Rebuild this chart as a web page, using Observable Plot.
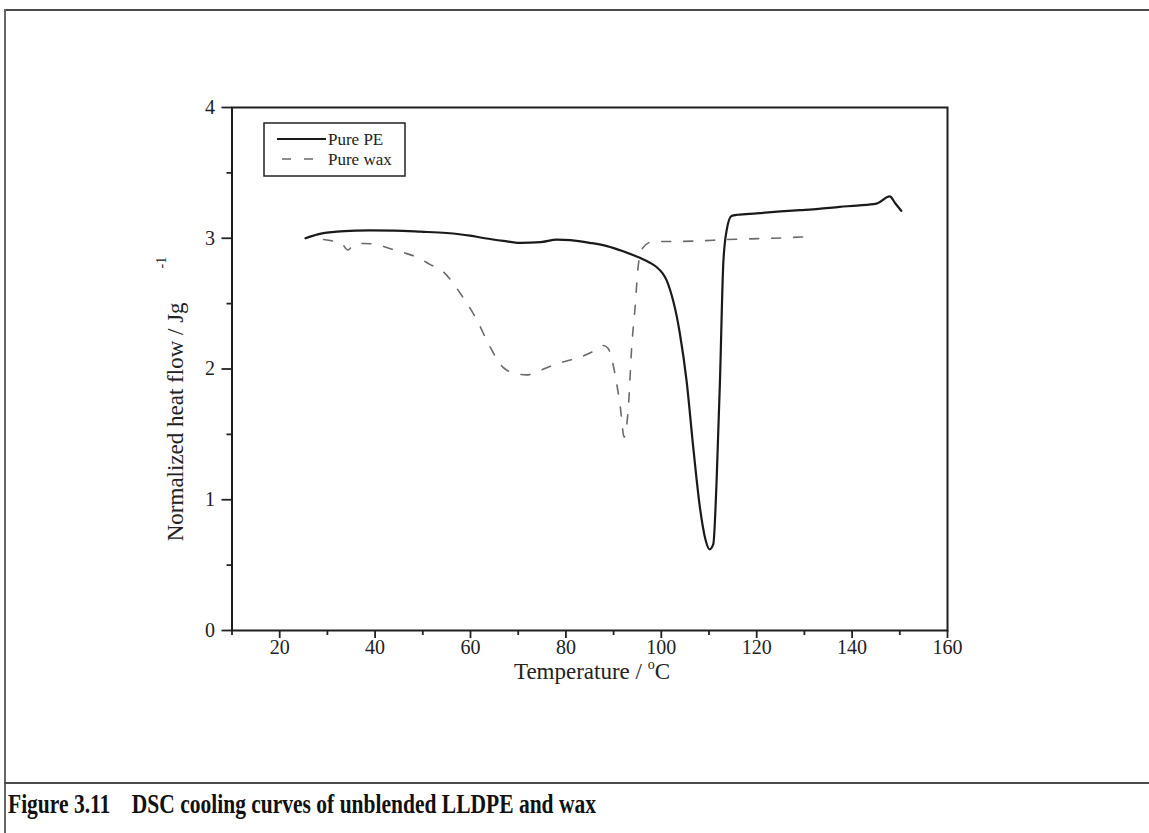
<!DOCTYPE html>
<html>
<head>
<meta charset="utf-8">
<script src="https://cdn.jsdelivr.net/npm/d3@7"></script>
<script src="https://cdn.jsdelivr.net/npm/@observablehq/plot@0.6"></script>
<style>
  html, body { margin: 0; padding: 0; background: #fff; }
  #page { position: relative; width: 1149px; height: 833px; overflow: hidden; background: #fff; }
  #page svg.chart { position: absolute; left: 0; top: 0; }
  .rule { position: absolute; background: #4a4a4a; }
  #caption { position: absolute; left: 8px; top: 789px; font-family: "Liberation Serif", "Times New Roman", serif;
    font-weight: bold; font-size: 21.5px; color: #111; white-space: pre; transform: scaleY(1.25); transform-origin: left top; }
</style>
</head>
<body>
<div id="page">
  <div class="rule" style="left:4px;top:9px;width:1145px;height:2px;"></div>
  <div class="rule" style="left:4px;top:9px;width:1.5px;height:824px;background:#666;"></div>
  <div class="rule" style="left:4px;top:782px;width:1145px;height:2px;"></div>
  <div id="caption">Figure 3.11    DSC cooling curves of unblended LLDPE and wax</div>
</div>
<script>
// ---- data ----
const peTemp = [25.4, 28, 32, 36, 39, 44, 49.5, 55, 59.9, 63, 66.9, 70.4, 74.7, 78.1, 81, 85, 88.6, 92, 95.5, 97.5, 99, 100.2, 101.1, 101.8, 102.5, 103.2, 103.9, 105.3, 106.7, 108.1, 109.3, 110.1, 110.9, 111.6, 112.3, 113, 113.7, 114.7, 116, 120, 125, 129.1, 133, 137.4, 141, 145.1, 147.9, 149, 150.3];
const peFlow = [3.0, 3.03, 3.05, 3.058, 3.06, 3.058, 3.05, 3.04, 3.02, 3.0, 2.98, 2.965, 2.97, 2.99, 2.985, 2.965, 2.94, 2.9, 2.85, 2.815, 2.78, 2.735, 2.68, 2.61, 2.52, 2.41, 2.27, 1.91, 1.40, 0.94, 0.69, 0.62, 0.66, 1.15, 1.91, 2.81, 3.06, 3.17, 3.18, 3.19, 3.205, 3.215, 3.225, 3.24, 3.25, 3.265, 3.32, 3.27, 3.21];
const waxTemp = [29.2, 31, 33, 34.3, 35.5, 37.6, 40, 43.2, 46, 48.8, 51.5, 54.4, 56.5, 58.2, 60, 61.4, 63.8, 66.9, 69, 71.8, 74, 77.4, 80, 83, 86, 87.9, 88.9, 89.6, 90.3, 91.4, 92.2, 93.1, 93.8, 94.5, 95.2, 96.2, 98.3, 102.5, 108, 113.7, 118, 123.5, 129.7];
const waxFlow = [2.99, 2.98, 2.96, 2.91, 2.95, 2.96, 2.955, 2.92, 2.89, 2.855, 2.80, 2.74, 2.65, 2.56, 2.46, 2.37, 2.19, 2.01, 1.97, 1.955, 1.98, 2.03, 2.06, 2.09, 2.14, 2.18, 2.155, 2.08, 1.96, 1.71, 1.48, 1.71, 2.17, 2.47, 2.80, 2.93, 2.975, 2.975, 2.98, 2.99, 2.995, 3.0, 3.01];
const xMajorTicks = [20, 40, 60, 80, 100, 120, 140, 160];
const xMinorTicks = [10, 30, 50, 70, 90, 110, 130, 150];
const yMajorTicks = [0, 1, 2, 3, 4];
const yMinorTicks = [0.5, 1.5, 2.5, 3.5];
const seriesNames = ["Pure PE", "Pure wax"];

const pe = peTemp.map((t, i) => ({t, f: peFlow[i]}));
const wax = waxTemp.map((t, i) => ({t, f: waxFlow[i]}));

const font = '"Liberation Serif", "Times New Roman", serif';
const W = 1149, H = 700, mL = 231.5, mR = 202, mT = 107, mB = 70;

const chart = Plot.plot({
  width: W, height: H,
  marginLeft: mL, marginRight: mR, marginTop: mT, marginBottom: mB,
  style: {fontFamily: font, fontSize: "20px", color: "#222", background: "transparent"},
  x: {domain: [10, 160]},
  y: {domain: [0, 4]},
  marks: [
    Plot.axisX({ticks: xMajorTicks, tickSize: 8, tickPadding: 1, tickFormat: d => String(d), label: null, stroke: "#222", strokeWidth: 1.8, fontSize: 20}),
    Plot.axisX({ticks: xMinorTicks, tickSize: 5, tickFormat: () => "", label: null, stroke: "#222", strokeWidth: 1.8}),
    Plot.axisY({ticks: yMajorTicks, tickSize: 10, tickPadding: 7, tickFormat: d => String(d), label: null, stroke: "#222", strokeWidth: 1.8, fontSize: 20}),
    Plot.axisY({ticks: yMinorTicks, tickSize: 5, tickFormat: () => "", label: null, stroke: "#222", strokeWidth: 1.8}),
    Plot.frame({stroke: "#1e1e1e", strokeWidth: 2}),
    Plot.line(wax, {x: "t", y: "f", stroke: "#6a6a6a", strokeWidth: 1.6, strokeDasharray: "9,13", curve: "monotone-x"}),
    Plot.line(pe, {x: "t", y: "f", stroke: "#1a1a1a", strokeWidth: 2.2, curve: "monotone-x"})
  ]
});
chart.classList.add("chart");
document.getElementById("page").appendChild(chart);

const svg = d3.select(chart);
// axis titles
const xt = svg.append("text").attr("x", 592).attr("y", 679).attr("text-anchor", "middle")
  .attr("font-family", font).attr("font-size", 23).attr("fill", "#222");
xt.append("tspan").text("Temperature / ");
xt.append("tspan").attr("dy", -10).attr("font-size", 14).text("o");
xt.append("tspan").attr("dy", 10).text("C");

const yt = svg.append("text").attr("transform", "translate(183,399) rotate(-90)").attr("text-anchor", "middle")
  .attr("font-family", font).attr("font-size", 23).attr("fill", "#222");
yt.append("tspan").text("Normalized heat flow / Jg");
yt.append("tspan").attr("dx", 34).attr("dy", -17).attr("font-size", 14).text("-1");

// legend
const lg = svg.append("g").attr("font-family", font).attr("font-size", 17).attr("fill", "#222").attr("text-anchor", "start");
lg.append("rect").attr("x", 264).attr("y", 123).attr("width", 141).attr("height", 53)
  .attr("fill", "none").attr("stroke", "#222").attr("stroke-width", 1.5);
lg.append("line").attr("x1", 277).attr("x2", 326).attr("y1", 139).attr("y2", 139).attr("stroke", "#1a1a1a").attr("stroke-width", 2);
lg.append("line").attr("x1", 282).attr("x2", 326).attr("y1", 159).attr("y2", 159).attr("stroke", "#6a6a6a").attr("stroke-width", 1.6).attr("stroke-dasharray", "9,13");
lg.append("text").attr("x", 328).attr("y", 145).attr("text-anchor", "start").text(seriesNames[0]);
lg.append("text").attr("x", 328).attr("y", 165).attr("text-anchor", "start").text(seriesNames[1]);
</script>
</body>
</html>
